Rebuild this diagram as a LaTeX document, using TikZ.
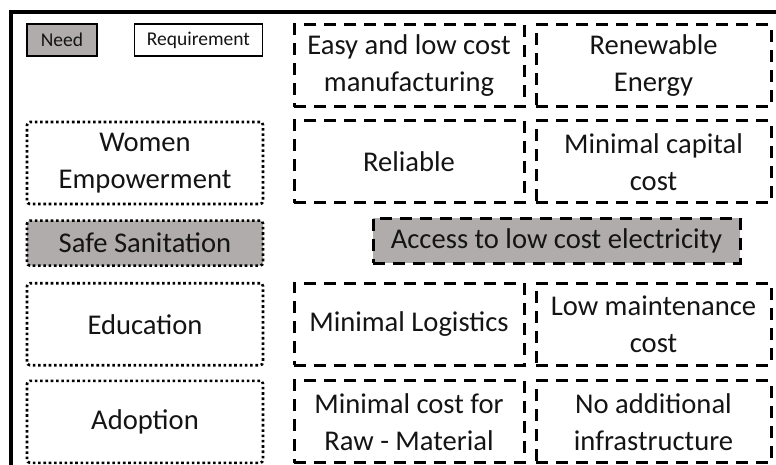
\documentclass[tikz,border=0pt]{standalone}
\usepackage{fontspec}
\setmainfont{Carlito}
\usetikzlibrary{positioning}
\definecolor{needgray}{HTML}{AFACAB}
\definecolor{ink}{HTML}{141414}
\tikzstyle{key} = [draw, line width=1.5pt, minimum height=32pt, inner sep=0pt, text=ink, font=\fontsize{19.5}{23}\selectfont]
\tikzstyle{want} = [draw, line width=2.6pt, dash pattern=on 2.6pt off 2.7pt, rounded corners=3pt, minimum width=236pt, minimum height=82pt, align=center, text=ink, font=\fontsize{28.6}{37}\selectfont]
\tikzstyle{spec} = [draw, line width=3pt, dash pattern=on 12pt off 8pt, minimum height=82pt, align=center, text=ink, font=\fontsize{28.6}{37}\selectfont]

\begin{document}
\begin{tikzpicture}[x=1pt, y=1pt]
  \clip (0,0) rectangle (776,-465);
  \draw [line width=4pt] (10.5,-480) |- (790,-12.5);

  \node [key, fill=needgray, minimum width=70pt] (need) at (62,-40) {Need};
  \node [key, right=36pt of need, minimum width=128pt] (requirement) {Requirement};

  \node [want] (women) at (145,-163) {Women\\Empowerment};
  \node [want, fill=needgray, below=14pt of women, minimum height=45pt] (safe) {Safe Sanitation};
  \node [want, below=15pt of safe] (edu) {Education};
  \node [want, below=13pt of edu] (adopt) {Adoption};

  \node [spec, minimum width=230pt] (manuf) at (409,-66) {Easy and low cost\\manufacturing};
  \node [spec, right=9pt of manuf, minimum width=235pt] (renew) {Renewable\\Energy};
  \node [spec, below=11pt of manuf, minimum width=230pt] (reliable) {Reliable};
  \node [spec, right=9pt of reliable, minimum width=235pt] (capital) {Minimal capital\\cost};
  \node [spec, fill=needgray, minimum width=367pt, minimum height=45pt] (access) at (556.5,-240.5) {Access to low cost electricity};
  \node [spec, minimum width=230pt] (logistics) at (manuf |- edu) {Minimal Logistics};
  \node [spec, right=9pt of logistics, minimum width=235pt] (maint) {Low maintenance\\cost};
  \node [spec, minimum width=230pt] (material) at (manuf |- adopt) {Minimal cost for\\Raw - Material};
  \node [spec, right=9pt of material, minimum width=235pt] (infra) {No additional\\infrastructure};
\end{tikzpicture}
\end{document}
